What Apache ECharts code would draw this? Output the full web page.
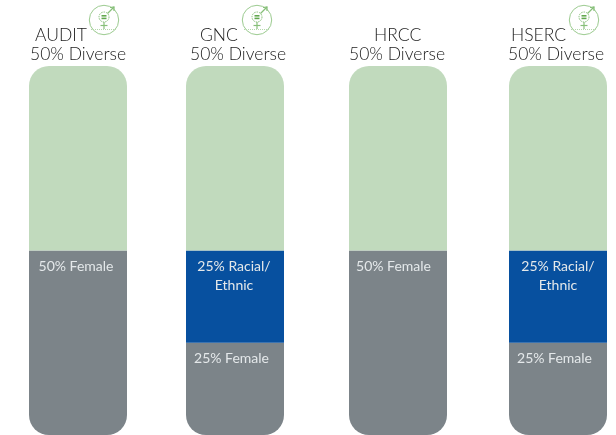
<!DOCTYPE html>
<html><head><meta charset="utf-8">
<style>html,body{margin:0;padding:0;background:#fff}#c{width:616px;height:435px}</style>
<script src="https://cdn.jsdelivr.net/npm/echarts@6/dist/echarts.min.js"></script>
</head><body><div id="c"></div>
<script>
const committees = ['AUDIT', 'GNC', 'HRCC', 'HSERC'];
const diverseLabel = '50% Diverse';
const femaleShare = [50, 25, 50, 25];
const racialShare = [0, 25, 0, 25];
const otherShare = [50, 50, 50, 50];
const femaleLabels = ['50% Female', '25% Female', '50% Female', '25% Female'];
const racialLabels = ['', '25% Racial/\nEthnic', '', '25% Racial/\nEthnic'];

const FONT = 'Lato';
const panelLeft = [29, 186, 349, 509];
const nameLeft = [35, 200, 374, 511];
const diverseLeft = [30, 190, 349, 508];
const iconX = [104, 257, null, 584];
const femaleShift = [-2, -3.5, -4.5, -3.5];
const racialShift = [0, -1, 0, 0];
const panelWidth = 98;
const R = 20;

const chart = echarts.init(document.getElementById('c'), null, {renderer: 'canvas'});

function icon(cx) {
  const g = '#86BF78';
  return {
    type: 'group', x: cx, y: 20, silent: true,
    children: [
      {type: 'circle', shape: {cx: 0, cy: 0, r: 14.7}, style: {fill: 'transparent', stroke: '#9CCB90', lineWidth: 1}},
      {type: 'circle', shape: {cx: 0, cy: -3, r: 5}, style: {fill: 'transparent', stroke: g, lineWidth: 1, lineDash: [1.5, 1]}},
      {type: 'rect', shape: {x: -2.5, y: -5, width: 5, height: 1.6}, style: {fill: '#62A84F'}},
      {type: 'rect', shape: {x: -2.5, y: -2.4, width: 5, height: 1.6}, style: {fill: '#62A84F'}},
      {type: 'line', shape: {x1: 3.5, y1: -6.5, x2: 10, y2: -13}, style: {stroke: g, lineWidth: 1.2}},
      {type: 'polyline', shape: {points: [[6, -12.5], [10, -13], [10, -9]]}, style: {fill: 'transparent', stroke: g, lineWidth: 1.2}},
      {type: 'line', shape: {x1: 0, y1: 2, x2: 0, y2: 9}, style: {stroke: g, lineWidth: 1.2}},
      {type: 'line', shape: {x1: -3.5, y1: 5.5, x2: 3.5, y2: 5.5}, style: {stroke: g, lineWidth: 1.2}},
      {type: 'line', shape: {x1: -13, y1: 9.5, x2: 13, y2: 9.5}, style: {stroke: '#B5D8AC', lineWidth: 1, lineDash: [1, 1]}}
    ]
  };
}

const grid = [], xAxis = [], yAxis = [], series = [], title = [];
const headStyle = {color: '#222', fontFamily: FONT, fontSize: 17.5, fontWeight: 300};
committees.forEach((name, i) => {
  grid.push({left: panelLeft[i], top: 66, width: panelWidth, height: 369});
  xAxis.push({gridIndex: i, type: 'category', data: [name], show: false});
  yAxis.push({gridIndex: i, type: 'value', min: 0, max: 100, show: false, splitLine: {show: false}});
  title.push({text: name, left: nameLeft[i], top: 26, padding: 0, textStyle: headStyle});
  title.push({text: diverseLabel, left: diverseLeft[i], top: 45, padding: 0, textStyle: headStyle});
  const labelBase = {
    show: true, position: 'insideTop', color: '#E4E8EA',
    fontFamily: FONT, fontSize: 14, lineHeight: 19, distance: 6
  };
  series.push({
    name: 'Female', type: 'bar', stack: 's' + i, xAxisIndex: i, yAxisIndex: i,
    barWidth: '100%', silent: true, animation: false,
    data: [femaleShare[i]],
    itemStyle: {color: '#7C8489', borderRadius: [0, 0, R, R]},
    label: Object.assign({}, labelBase, {formatter: femaleLabels[i], offset: [femaleShift[i], 0]})
  });
  if (racialShare[i] > 0) {
    series.push({
      name: 'Racial/Ethnic', type: 'bar', stack: 's' + i, xAxisIndex: i, yAxisIndex: i,
      barWidth: '100%', silent: true, animation: false,
      data: [racialShare[i]],
      itemStyle: {color: '#07509F'},
      label: Object.assign({}, labelBase, {formatter: racialLabels[i], offset: [racialShift[i], 0]})
    });
  }
  series.push({
    name: 'Other', type: 'bar', stack: 's' + i, xAxisIndex: i, yAxisIndex: i,
    barWidth: '100%', silent: true, animation: false,
    data: [otherShare[i]],
    itemStyle: {color: '#C1DABD', borderRadius: [R, R, 0, 0]}
  });
});

chart.setOption({
  animation: false,
  backgroundColor: '#fff',
  title, grid, xAxis, yAxis, series,
  graphic: iconX.filter(x => x !== null).map(icon)
});
</script></body></html>
